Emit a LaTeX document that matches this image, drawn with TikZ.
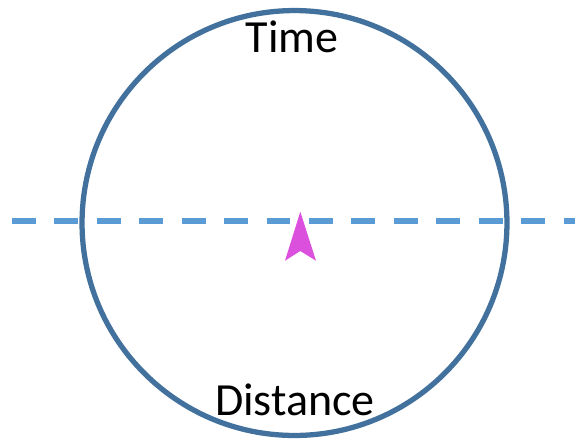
\documentclass[tikz,border=0pt]{standalone}
\usepackage{fontspec}
\setmainfont{Carlito}
\definecolor{rimblue}{RGB}{65,113,156}
\definecolor{axisblue}{RGB}{91,155,213}
\definecolor{pointermag}{RGB}{220,80,222}

\begin{document}
\begin{tikzpicture}[
    x=0.02cm, y=-0.02cm,
    rim/.style={
        circle,
        draw=rimblue,
        line width=3pt,
        minimum size=8.5cm,
        inner sep=0pt
    },
    axis/.style={
        draw=axisblue,
        line width=3pt,
        dash pattern=on 13.6pt off 10.55pt
    },
    word/.style={font=\fontsize{26.2}{31}\selectfont, anchor=base, inner sep=0pt}
]
\useasboundingbox (0,0) rectangle (575,441);

% the dial and its two labels
\node[rim] (dial) at (294.5,223) {};
\node[word] (time) at (292,52) {Time};
\node[word] (dist) at (295,415) {Distance};

% horizontal axis through the dial
\coordinate (axisL) at (12,221);
\coordinate (axisR) at (575,221);
\draw[axis] (axisL) -- (axisR);

% pointer
\fill[pointermag] (300.3,211.7) -- (316,260.7) -- (300.3,251) -- (285,260.7) -- cycle;

\end{tikzpicture}
\end{document}
